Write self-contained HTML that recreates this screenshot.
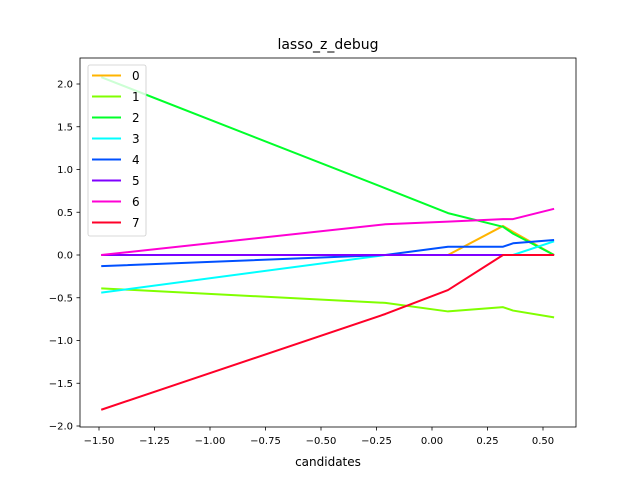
<!DOCTYPE html>
<html><head><meta charset="utf-8"><style>
body{margin:0;background:#fff;font-family:"Liberation Sans","DejaVu Sans",sans-serif}
svg text{font-family:"DejaVu Sans","Liberation Sans",sans-serif}
</style></head><body>
<svg id="chart" width="640" height="480" xmlns="http://www.w3.org/2000/svg">
<rect width="640" height="480" fill="#fff"/>
<text x="328" y="49" font-size="14" text-anchor="middle">lasso_z_debug</text>
<text x="328" y="466" font-size="12" text-anchor="middle">candidates</text>
<g id="plot"></g>
</svg>
<script>
const xs = [-1.49, -0.21, 0.072, 0.32, 0.365, 0.55];
const seriesNames = ["0","1","2","3","4","5","6","7"];
const s0 = [0, 0, 0, 0.34, 0.27, 0];
const s1 = [-0.39, -0.56, -0.66, -0.61, -0.65, -0.73];
const s2 = [2.08, 0.78, 0.49, 0.33, 0.25, 0];
const s3 = [-0.44, 0, 0, 0, 0, 0.16];
const s4 = [-0.13, 0, 0.097, 0.097, 0.137, 0.175];
const s5 = [0, 0, 0, 0, 0, 0];
const s6 = [0, 0.36, 0.39, 0.42, 0.42, 0.54];
const s7 = [-1.81, -0.69, -0.41, 0, 0, 0];
const colors = ["#ffb400","#80ff00","#00ff2a","#00ffff","#0050ff","#7f00ff","#ff00d4","#ff0029"];
const xTicks = [-1.5,-1.25,-1.0,-0.75,-0.5,-0.25,0,0.25,0.5];
const yTicks = [2.0,1.5,1.0,0.5,0,-0.5,-1.0,-1.5,-2.0];
const series = [s0,s1,s2,s3,s4,s5,s6,s7];
const L=80,R=576,T=58,B=427;
const xs_ = v => 432 + v*222;
const ys_ = v => 255 - v*85.5;
const NS="http://www.w3.org/2000/svg";
const g=document.getElementById('plot');
function mk(t,a){const e=document.createElementNS(NS,t);for(const k in a)e.setAttribute(k,a[k]);g.appendChild(e);return e;}
const fmt=v=>(v<0?"\u2212":"")+Math.abs(v).toFixed(2);
xTicks.forEach(v=>{const x=xs_(v);
 const t=mk('line',{x1:x,x2:x,y1:B,y2:B+3.5,stroke:'#000','stroke-width':0.8});
 
 
 const l=mk('text',{x:x,y:B+17,'font-size':10,'text-anchor':'middle'});l.textContent=fmt(v);
 
 });
yTicks.forEach(v=>{const y=ys_(v);
 const t=mk('line',{x1:L-3.5,x2:L,y1:y,y2:y,stroke:'#000','stroke-width':0.8});
 
 
 const l=mk('text',{x:L-7,y:y+3.5,'font-size':10,'text-anchor':'end'});l.textContent=(v<0?"\u2212":"")+Math.abs(v).toFixed(1);
 
 });
series.forEach((s,i)=>{
 const p=mk('polyline',{points:s.map((v,j)=>xs_(xs[j])+','+ys_(v)).join(' '),fill:'none',stroke:colors[i],'stroke-width':2,'stroke-linejoin':'round'});
 
 });
const frame=mk('rect',{x:L,y:T,width:R-L,height:B-T,fill:'none',stroke:'#000','stroke-width':0.8});


const lg=mk('rect',{x:88,y:65,width:58,height:171,rx:2,fill:'#fff','fill-opacity':0.8,stroke:'#ccc','stroke-width':0.8});


seriesNames.forEach((n,i)=>{const y=75.5+i*21;
 const l=mk('line',{x1:92,x2:121,y1:y,y2:y,stroke:colors[i],'stroke-width':2});
 
 
 const t=mk('text',{x:132,y:y+4.5,'font-size':12});t.textContent=n;
 
 });
</script>
</body></html>
